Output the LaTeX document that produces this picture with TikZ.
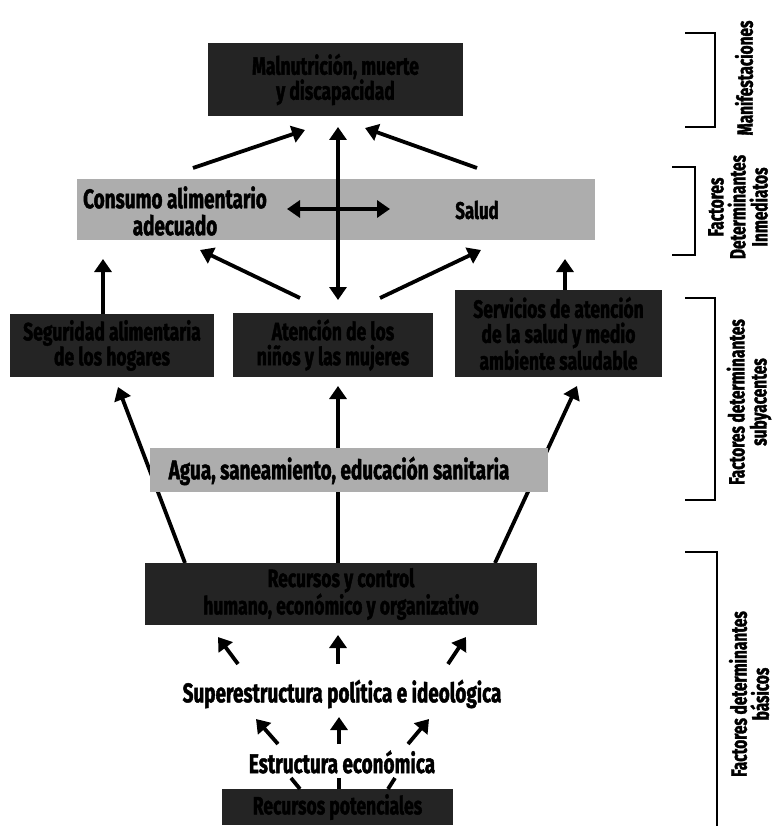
\documentclass[tikz,border=0pt]{standalone}
\usepackage{fontspec}
\setmainfont{Fira Sans}[FakeStretch=0.7, BoldFeatures={FakeBold=1.6}]
\usetikzlibrary{arrows.meta,backgrounds}
\begin{document}
\begin{tikzpicture}[x=1pt,y=-1pt,
  darkbox/.style={fill=black!86, text=black, font=\bfseries\fontsize{25}{25}\selectfont, align=center, inner sep=0pt},
  lightbox/.style={fill=black!32, inner sep=0pt},
  lbl/.style={font=\bfseries\fontsize{27}{27}\selectfont, align=center, inner sep=0pt, text=black},
  side/.style={font=\bfseries\fontsize{22}{22}\selectfont, align=center, inner sep=0pt, rotate=90},
  arr/.style={line width=3.8pt, -{Triangle[length=13pt,width=17pt]}},
  darr/.style={line width=3.8pt, {Triangle[length=13pt,width=17pt]}-{Triangle[length=13pt,width=17pt]}},
  plain/.style={line width=3.8pt},
  brk/.style={line width=1.8pt}]
\useasboundingbox (0,0) rectangle (774,826);

% boxes
\node[darkbox, minimum width=255pt, minimum height=73pt] (top) at (335.5,79.5) {Malnutrición, muerte\\ y discapacidad};
\node[lightbox, minimum width=518pt, minimum height=61pt] (imm) at (336,209.5) {};
\node[lbl] (cons) at (175,211) {Consumo alimentario\\adecuado};
\node[lbl, font=\bfseries\fontsize{24}{24}\selectfont] (salud) at (477,210) {Salud};
\node[darkbox, minimum width=204pt, minimum height=63pt] (seg) at (112,345.5) {Seguridad alimentaria\\de los hogares};
\node[darkbox, minimum width=200pt, minimum height=64pt] (aten) at (333,345) {Atención de los\\niños y las mujeres};
\node[darkbox, minimum width=207pt, minimum height=87pt] (serv) at (558.5,333.5) {Servicios de atención\\de la salud y medio\\ambiente saludable};
\node[lightbox, minimum width=398pt, minimum height=44pt] (agua) at (349,470) {};
\node[lbl] (aguat) at (339,471) {Agua, saneamiento, educación sanitaria};
\node[darkbox, minimum width=392pt, minimum height=62pt] (rec) at (341,594) {Recursos y control\\humano, económico y organizativo};
\node[lbl] (sup) at (342,694) {Superestructura política e ideológica};
\node[lbl] (est) at (342,762) {Estructura económica};
\node[darkbox, minimum width=231pt, minimum height=36pt] (pot) at (337.5,807) {Recursos potenciales};

% connector end points
\coordinate (a1s) at (193,168); \coordinate (a1e) at (305,130);
\coordinate (a2s) at (477,168); \coordinate (a2e) at (365,128);
\coordinate (a3s) at (338,300); \coordinate (a3e) at (338,127);
\coordinate (a4s) at (287,209); \coordinate (a4e) at (390,209);
\coordinate (a5e) at (103,259);
\coordinate (a6s) at (300,298); \coordinate (a6e) at (200,250);
\coordinate (a7s) at (380,298); \coordinate (a7e) at (481,250);
\coordinate (a8e) at (565,259);
\coordinate (a9s) at (185,563); \coordinate (a9e) at (118,387);
\coordinate (a10s) at (338,563); \coordinate (a10e) at (338,386);
\coordinate (a11s) at (495,563); \coordinate (a11e) at (577,386);
\coordinate (a12s) at (238,664); \coordinate (a12e) at (218,637);
\coordinate (a13s) at (338,664); \coordinate (a13e) at (338,635);
\coordinate (a14s) at (448,664); \coordinate (a14e) at (466,637);
\coordinate (a15s) at (278,744); \coordinate (a15e) at (256,719);
\coordinate (a16s) at (339,744); \coordinate (a16e) at (339,717);
\coordinate (a17s) at (408,744); \coordinate (a17e) at (429,719);
\coordinate (l1s) at (300,789); \coordinate (l1e) at (291,778);
\coordinate (l2s) at (339,789); \coordinate (l2e) at (339,778);
\coordinate (l3s) at (388,789); \coordinate (l3e) at (395,778);

\begin{pgfonlayer}{background}
\draw[arr] (a9s) -- (a9e);
\draw[arr] (a10s) -- (a10e);
\draw[arr] (a11s) -- (a11e);
\end{pgfonlayer}

\draw[arr] (a1s) -- (a1e);
\draw[arr] (a2s) -- (a2e);
\draw[darr] (a3s) -- (a3e);
\draw[darr] (a4s) -- (a4e);
\draw[arr] (seg.north -| a5e) -- (a5e);
\draw[arr] (a6s) -- (a6e);
\draw[arr] (a7s) -- (a7e);
\draw[arr] (serv.north -| a8e) -- (a8e);
\draw[arr] (a12s) -- (a12e);
\draw[arr] (a13s) -- (a13e);
\draw[arr] (a14s) -- (a14e);
\draw[arr] (a15s) -- (a15e);
\draw[arr] (a16s) -- (a16e);
\draw[arr] (a17s) -- (a17e);
\draw[plain] (l1s) -- (l1e);
\draw[plain] (l2s) -- (l2e);
\draw[plain] (l3s) -- (l3e);

% side brackets
\draw[brk] (685,33) -- (715,33) -- (715,127) -- (685,127);
\draw[brk] (672,167) -- (695,167) -- (695,255) -- (672,255);
\draw[brk] (685,298) -- (715,298) -- (715,500) -- (685,500);
\draw[brk] (685,552) -- (717,552) -- (717,830);

\node[side] (s1) at (744,78) {Manifestaciones};
\node[side] (s2) at (738,207) {Factores\\Determinantes\\Inmediatos};
\node[side] (s3) at (749,402) {Factores determinantes\\subyacentes};
\node[side] (s4) at (749,694) {Factores determinantes\\básicos};
\end{tikzpicture}
\end{document}
